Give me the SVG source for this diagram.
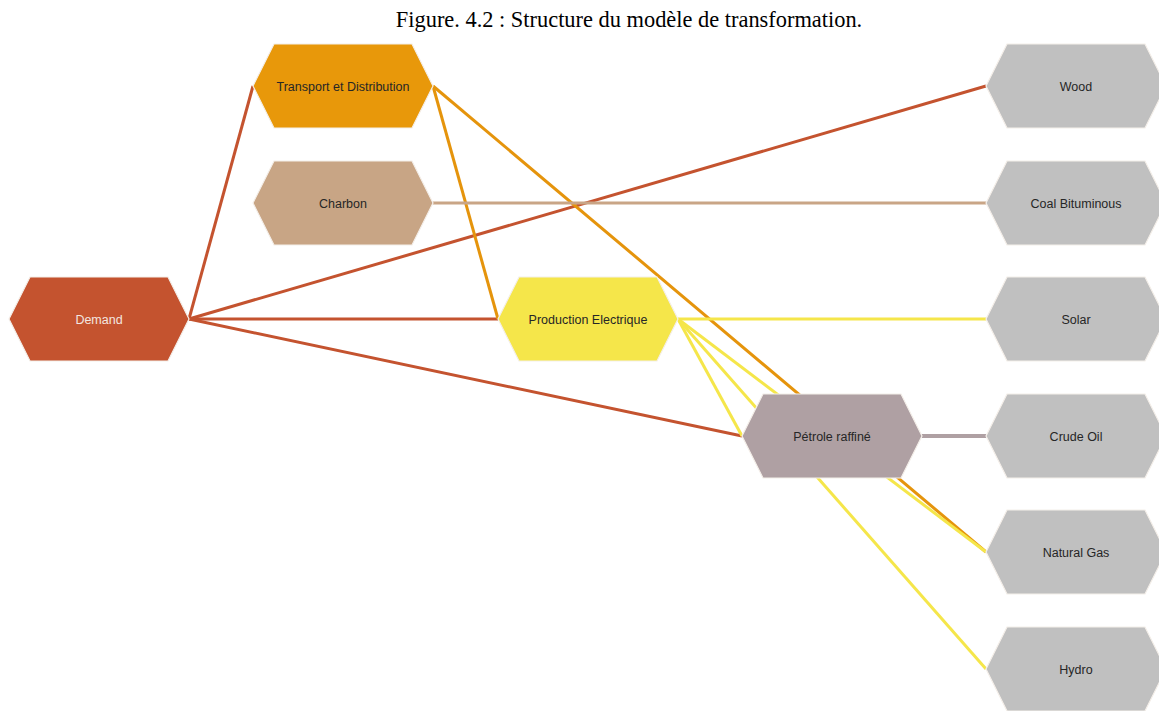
<svg xmlns="http://www.w3.org/2000/svg" width="1159" height="711" viewBox="0 0 1159 711">
  <defs>
    <!-- hexagon 180 x 84, centred on the origin -->
    <polygon id="hex" points="-90,0 -69,-42 69,-42 90,0 69,42 -69,42"/>
  </defs>
  <style>
    .title { font-family: "Liberation Serif", "Times New Roman", serif; font-size: 22.4px; fill: #000; }
    .lbl { font-family: "Liberation Sans", Arial, sans-serif; font-size: 12.5px; fill: #262626; text-anchor: middle; }
    .node use { stroke: #f4efe9; stroke-width: 1.2; }
    .wire { fill: none; stroke-width: 3; stroke-linecap: butt; }
    .red { stroke: #C4532F; }
    .orange { stroke: #E5940C; }
    .tan { stroke: #C9A586; }
    .yellow { stroke: #F5E64A; }
    .mauve { stroke: #AFA0A3; stroke-width: 4; }
  </style>

  <rect width="1159" height="711" fill="#ffffff"/>

  <text class="title" x="629" y="27" text-anchor="middle">Figure. 4.2 : Structure du modèle de transformation.</text>

  <g id="connectors">
    <line class="wire red" x1="189" y1="319" x2="253" y2="86"/>
    <line class="wire red" x1="189" y1="319" x2="986" y2="86"/>
    <line class="wire red" x1="189" y1="319" x2="498" y2="319"/>
    <line class="wire red" x1="189" y1="319" x2="742" y2="436"/>
    <line class="wire orange" x1="433" y1="86" x2="498" y2="319"/>
    <line class="wire orange" x1="433" y1="86" x2="986" y2="552"/>
    <line class="wire tan" x1="433" y1="203" x2="986" y2="203"/>
    <line class="wire yellow" x1="678" y1="319" x2="986" y2="319"/>
    <line class="wire yellow" x1="678" y1="319" x2="742" y2="436"/>
    <line class="wire yellow" x1="678" y1="319" x2="986" y2="552"/>
    <line class="wire yellow" x1="678" y1="319" x2="986" y2="669"/>
    <line class="wire mauve" x1="922" y1="436" x2="986" y2="436"/>
  </g>

  <g id="demand" class="node" transform="translate(99,319)">
    <use href="#hex" fill="#C4532F"/>
    <text class="lbl" y="4.5" style="fill:#f3e6e0">Demand</text>
  </g>

  <g id="transport" class="node" transform="translate(343,86)">
    <use href="#hex" fill="#E8980A"/>
    <text class="lbl" y="4.5">Transport et Distribution</text>
  </g>

  <g id="charbon" class="node" transform="translate(343,203)">
    <use href="#hex" fill="#C8A585"/>
    <text class="lbl" y="4.5">Charbon</text>
  </g>

  <g id="production" class="node" transform="translate(588,319)">
    <use href="#hex" fill="#F5E64A"/>
    <text class="lbl" y="4.5">Production Electrique</text>
  </g>

  <g id="petrole" class="node" transform="translate(832,436)">
    <use href="#hex" fill="#AFA0A3"/>
    <text class="lbl" y="4.5">Pétrole raffiné</text>
  </g>

  <g id="wood" class="node" transform="translate(1076,86)">
    <use href="#hex" fill="#C0C0C0"/>
    <text class="lbl" y="4.5">Wood</text>
  </g>

  <g id="coal" class="node" transform="translate(1076,203)">
    <use href="#hex" fill="#C0C0C0"/>
    <text class="lbl" y="4.5">Coal Bituminous</text>
  </g>

  <g id="solar" class="node" transform="translate(1076,319)">
    <use href="#hex" fill="#C0C0C0"/>
    <text class="lbl" y="4.5">Solar</text>
  </g>

  <g id="crude" class="node" transform="translate(1076,436)">
    <use href="#hex" fill="#C0C0C0"/>
    <text class="lbl" y="4.5">Crude Oil</text>
  </g>

  <g id="gas" class="node" transform="translate(1076,552)">
    <use href="#hex" fill="#C0C0C0"/>
    <text class="lbl" y="4.5">Natural Gas</text>
  </g>

  <g id="hydro" class="node" transform="translate(1076,669)">
    <use href="#hex" fill="#C0C0C0"/>
    <text class="lbl" y="4.5">Hydro</text>
  </g>
</svg>
